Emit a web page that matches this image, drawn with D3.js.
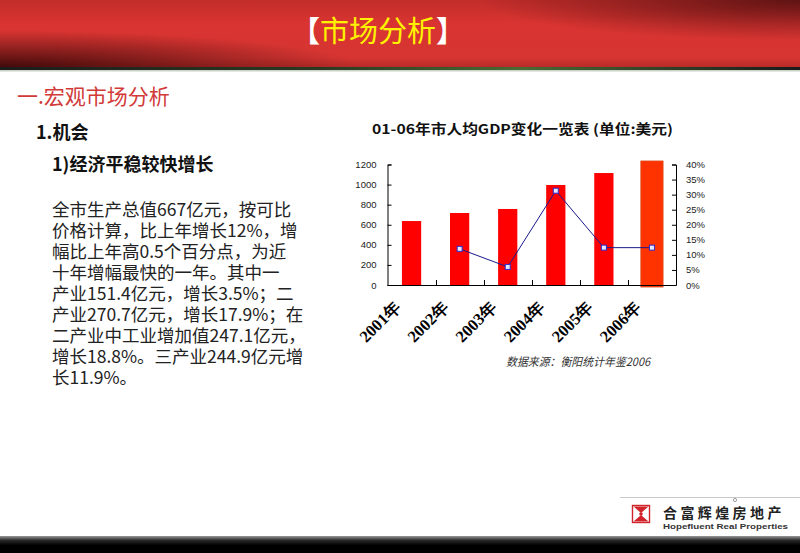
<!DOCTYPE html>
<html>
<head>
<meta charset="utf-8">
<script src="https://cdn.jsdelivr.net/npm/d3@7"></script>
<style>
html,body{margin:0;padding:0;background:#fff;}
svg{display:block;}
</style>
</head>
<body>
<svg id="c" width="800" height="553"></svg>
<script>
const categories = ["2001年","2002年","2003年","2004年","2005年","2006年"];
const gdpValues = [637, 717, 757, 996, 1115, 1235];
const growthValues = [null, 12, 6, 31.3, 12.4, 12.4];
const leftTicks = [0, 200, 400, 600, 800, 1000, 1200];
const rightTicks = [0, 5, 10, 15, 20, 25, 30, 35, 40];
const chartTitle = "01-06年市人均GDP变化一览表 (单位:美元)";
const sourceNote = "数据来源：衡阳统计年鉴2006";
const pageTitle = ["【", "市场分析", "】"];
const sectionTitle = "一.宏观市场分析";
const subTitle = "1.机会";
const pointTitle = "1)经济平稳较快增长";
const bodyLines = [
  "全市生产总值667亿元，按可比",
  "价格计算，比上年增长12%，增",
  "幅比上年高0.5个百分点，为近",
  "十年增幅最快的一年。其中一",
  "产业151.4亿元，增长3.5%；二",
  "产业270.7亿元，增长17.9%；在",
  "二产业中工业增加值247.1亿元，",
  "增长18.8%。三产业244.9亿元增",
  "长11.9%。"
];

const svg = d3.select("#c");
const CJK = "'Noto Sans CJK SC','Noto Sans',sans-serif";
const defs = svg.append("defs");

// ---------- header ----------
const hg = defs.append("linearGradient").attr("id","hbase").attr("x1",0).attr("y1",0).attr("x2",0).attr("y2",1);
hg.append("stop").attr("offset","0%").attr("stop-color","#c22d2a");
hg.append("stop").attr("offset","35%").attr("stop-color","#d93431");
hg.append("stop").attr("offset","85%").attr("stop-color","#d63532");
hg.append("stop").attr("offset","100%").attr("stop-color","#b52a27");
const r1 = defs.append("radialGradient").attr("id","hdarkL").attr("cx",0).attr("cy",1).attr("r",1)
  .attr("gradientUnits","objectBoundingBox").attr("gradientTransform","translate(0,1) scale(0.45,0.55) translate(0,-1)");
r1.append("stop").attr("offset","0%").attr("stop-color","#3a0808").attr("stop-opacity",0.95);
r1.append("stop").attr("offset","100%").attr("stop-color","#3a0808").attr("stop-opacity",0);
const r2 = defs.append("radialGradient").attr("id","hdarkR").attr("cx",1).attr("cy",0).attr("r",1)
  .attr("gradientUnits","objectBoundingBox").attr("gradientTransform","translate(1,0) scale(0.4,0.6) translate(-1,0)");
r2.append("stop").attr("offset","0%").attr("stop-color","#5a1212").attr("stop-opacity",0.95);
r2.append("stop").attr("offset","100%").attr("stop-color","#5a1212").attr("stop-opacity",0);

svg.append("rect").attr("x",0).attr("y",0).attr("width",800).attr("height",68).attr("fill","url(#hbase)");
svg.append("rect").attr("x",0).attr("y",0).attr("width",800).attr("height",68).attr("fill","url(#hdarkL)");
svg.append("rect").attr("x",0).attr("y",0).attr("width",800).attr("height",68).attr("fill","url(#hdarkR)");
const lg = defs.append("linearGradient").attr("id","hline").attr("x1",0).attr("y1",0).attr("x2",1).attr("y2",0);
lg.append("stop").attr("offset","0%").attr("stop-color","#1c1c1c");
lg.append("stop").attr("offset","40%").attr("stop-color","#2a3a22");
lg.append("stop").attr("offset","65%").attr("stop-color","#4a6a34");
lg.append("stop").attr("offset","100%").attr("stop-color","#1a1a1a");
svg.append("rect").attr("x",0).attr("y",67).attr("width",800).attr("height",3).attr("fill","url(#hline)");
svg.append("rect").attr("x",0).attr("y",70).attr("width",800).attr("height",1.5).attr("fill","#a9b6a2").attr("opacity",0.6);

const tt = svg.append("text").attr("x",378).attr("y",42).attr("text-anchor","middle")
  .attr("font-family",CJK).attr("font-size",29);
tt.append("tspan").attr("fill","#ffffff").attr("font-weight","bold").text(pageTitle[0]);
tt.append("tspan").attr("fill","#fff200").text(pageTitle[1]);
tt.append("tspan").attr("fill","#ffffff").attr("font-weight","bold").text(pageTitle[2]);

// ---------- left texts ----------
svg.append("text").attr("x",17).attr("y",103.5).attr("font-family",CJK).attr("font-size",21)
  .attr("fill","#d23a3a").text(sectionTitle);
svg.append("text").attr("x",36).attr("y",138.5).attr("font-family",CJK).attr("font-size",18)
  .attr("font-weight","bold").attr("fill","#111").text(subTitle);
svg.append("text").attr("x",52).attr("y",171).attr("font-family",CJK).attr("font-size",18)
  .attr("font-weight","bold").attr("fill","#111").text(pointTitle);
const body = svg.append("text").attr("font-family",CJK).attr("font-size",17.5).attr("fill","#222");
body.selectAll("tspan").data(bodyLines).join("tspan")
  .attr("x",52).attr("y",(d,i)=>215.5 + i*21.1)
  .text(d=>d);

// ---------- chart ----------
const pLeft = 387.5, pRight = 676, pTop = 164.5, pBottom = 285;
const x = d3.scaleBand().domain(categories).range([pLeft,pRight]).paddingInner(0.6).paddingOuter(0.3);
const y = d3.scaleLinear().domain([0,1200]).range([pBottom,pTop]);
const y2 = d3.scaleLinear().domain([0,40]).range([pBottom,pTop]);

svg.append("text").attr("x",522.5).attr("y",133.5).attr("text-anchor","middle")
  .attr("font-family",CJK).attr("font-size",13.5).attr("font-weight","bold").attr("fill","#111")
  .attr("textLength",301).attr("lengthAdjust","spacingAndGlyphs").text(chartTitle);

const last = categories.length - 1;
svg.append("g").selectAll("rect").data(gdpValues).join("rect")
  .attr("x",(d,i)=> x(categories[i]) - (i===last?1.5:0))
  .attr("width",(d,i)=> x.bandwidth() + (i===last?3:0))
  .attr("y",d=>y(d))
  .attr("height",(d,i)=> y(0) - y(d) + (i===last?2:0))
  .attr("fill",(d,i)=> i===last ? "#ff3300" : "#ff0000")
  .attr("stroke",(d,i)=> i===last ? "#d94a1a" : "none")
  .attr("stroke-width",0.8);

// axes
const axL = d3.axisLeft(y).tickValues(leftTicks).tickSizeInner(-4).tickSizeOuter(-4).tickPadding(11).tickFormat(d3.format("d"));
const gL = svg.append("g").attr("transform",`translate(${pLeft},0)`).call(axL);
const axR = d3.axisRight(y2).tickValues(rightTicks).tickSizeInner(-4).tickSizeOuter(-4).tickPadding(10).tickFormat(d=>d+"%");
const gR = svg.append("g").attr("transform",`translate(${pRight},0)`).call(axR);
[gL,gR].forEach(g=>{
  g.selectAll("text").attr("font-family","'Liberation Sans',Arial,sans-serif").attr("font-size",9.5).attr("fill","#222");
  g.selectAll("path,line").attr("stroke","#000");
});

// bottom axis line and ticks at category boundaries
const gB = svg.append("g");
gB.append("line").attr("x1",pLeft).attr("x2",pRight).attr("y1",pBottom+0.5).attr("y2",pBottom+0.5).attr("stroke","#000");
gB.selectAll("line.t").data(categories.slice(1)).join("line").attr("class","t")
  .attr("x1",d=>Math.round(x(d) - x.step()*x.paddingInner()/2)+0.5)
  .attr("x2",d=>Math.round(x(d) - x.step()*x.paddingInner()/2)+0.5)
  .attr("y1",pBottom).attr("y2",pBottom-5).attr("stroke","#000");

// x labels
svg.append("g").selectAll("text").data(categories).join("text")
  .attr("transform",d=>`translate(${x(d)+x.bandwidth()/2-10},308) rotate(-45)`)
  .attr("text-anchor","end")
  .attr("font-family","'Liberation Serif','Times New Roman',serif")
  .attr("font-size",16.5).attr("font-weight","bold").attr("fill","#000")
  .text(d=>d);

// growth line
const pts = growthValues.map((v,i)=>({c:categories[i], v})).filter(p=>p.v!==null);
const line = d3.line().x(p=>x(p.c)+x.bandwidth()/2).y(p=>y2(p.v));
svg.append("path").datum(pts).attr("d",line).attr("fill","none").attr("stroke","#1a1a8c").attr("stroke-width",1);
svg.append("g").selectAll("rect").data(pts).join("rect")
  .attr("x",p=>x(p.c)+x.bandwidth()/2-2.5).attr("y",p=>y2(p.v)-2.5)
  .attr("width",5).attr("height",5).attr("fill","#e8e8ff").attr("stroke","#2a2ad0").attr("stroke-width",1);

// source note
svg.append("text").attr("x",506).attr("y",366).attr("font-family",CJK).attr("font-size",11.5)
  .attr("font-style","italic").attr("fill","#333").attr("textLength",144).attr("lengthAdjust","spacingAndGlyphs")
  .text(sourceNote);

// ---------- logo ----------
svg.append("line").attr("x1",620).attr("x2",800).attr("y1",497.5).attr("y2",497.5).attr("stroke","#c8c8c8");
const lgG = svg.append("g").attr("transform","translate(632,505)");
lgG.append("rect").attr("x",0.5).attr("y",0.5).attr("width",17).attr("height",17).attr("fill","#fff").attr("stroke","#d0242a").attr("stroke-width",1.4);
lgG.append("path").attr("d","M1.5,1.5 L16.5,1.5 L9,8 Z").attr("fill","#d0242a");
lgG.append("path").attr("d","M1.5,16.5 L16.5,16.5 L9,10 Z").attr("fill","#d0242a");
lgG.append("circle").attr("cx",9).attr("cy",9).attr("r",1.8).attr("fill","#d0242a");
svg.append("text").attr("x",663).attr("y",517.5).attr("font-family",CJK).attr("font-size",14).attr("font-weight","bold")
  .attr("fill","#222").attr("letter-spacing",3.4).text("合富辉煌房地产");
svg.append("g").attr("transform","translate(735,500)").append("circle").attr("r",1.6).attr("fill","none").attr("stroke","#444").attr("stroke-width",0.5);
svg.append("text").attr("x",663).attr("y",529).attr("font-family","'Liberation Sans',sans-serif").attr("font-size",7.5)
  .attr("font-weight","bold").attr("fill","#333").attr("textLength",125).attr("lengthAdjust","spacingAndGlyphs").text("Hopefluent Real Properties");

// ---------- bottom band ----------
const bg = defs.append("linearGradient").attr("id","bband").attr("x1",0).attr("y1",0).attr("x2",0).attr("y2",1);
bg.append("stop").attr("offset","0%").attr("stop-color","#9a9a9a");
bg.append("stop").attr("offset","25%").attr("stop-color","#2a2a2a");
bg.append("stop").attr("offset","55%").attr("stop-color","#000");
bg.append("stop").attr("offset","100%").attr("stop-color","#000");
svg.append("rect").attr("x",0).attr("y",536).attr("width",800).attr("height",17).attr("fill","url(#bband)");
</script>
</body>
</html>
